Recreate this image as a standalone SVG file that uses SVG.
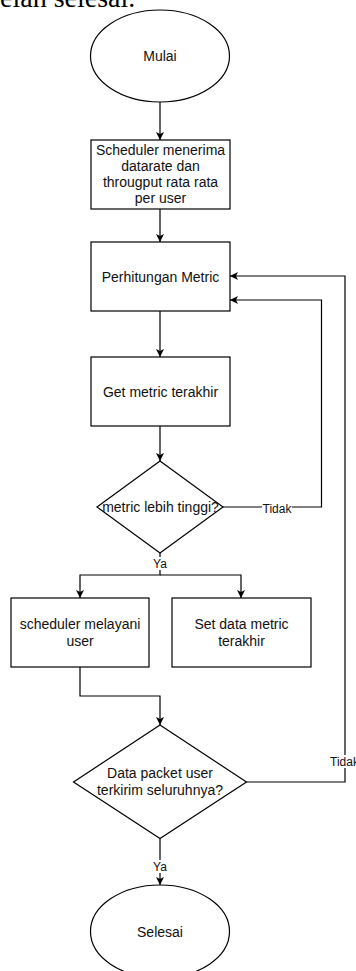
<svg xmlns="http://www.w3.org/2000/svg" width="356" height="971" viewBox="0 0 356 971">
<style>
.s{fill:#fff;stroke:#000;stroke-width:1.2}
.c{fill:none;stroke:#000;stroke-width:1.2}
.t{font-family:"Liberation Sans",Arial,sans-serif;font-size:14px;fill:#111;text-anchor:middle}
.l{font-family:"Liberation Sans",Arial,sans-serif;font-size:12px;fill:#111;text-anchor:middle}
</style>
<defs>
<marker id="ah" markerUnits="userSpaceOnUse" markerWidth="10" markerHeight="10" refX="8" refY="4" orient="auto">
<path d="M0,0 L8,4 L0,8 L2,4 z" fill="#000"/>
</marker>
</defs>
<rect width="356" height="971" fill="#fff"/>
<text x="0" y="7" font-family="'Liberation Serif',serif" font-size="28" fill="#000">elah selesai.</text>
<g id="connectors">
<path class="c" d="M160,102 V140" marker-end="url(#ah)"/>
<path class="c" d="M160,209 V242" marker-end="url(#ah)"/>
<path class="c" d="M160,311 V357" marker-end="url(#ah)"/>
<path class="c" d="M160,426 V461" marker-end="url(#ah)"/>
<path class="c" d="M223,507 H321.5 V300 H230" marker-end="url(#ah)"/>
<path class="c" d="M246.5,782 H345 V276 H230" marker-end="url(#ah)"/>
<path class="c" d="M160,553 V575 H80 V598" marker-end="url(#ah)"/>
<path class="c" d="M160,575 H241 V598" marker-end="url(#ah)"/>
<path class="c" d="M80,667 V696 H160 V725" marker-end="url(#ah)"/>
<path class="c" d="M160,838.5 V885" marker-end="url(#ah)"/>
<rect x="262" y="501" width="30" height="13" fill="#fff"/>
<text class="l" x="277" y="513">Tidak</text>
<rect x="329" y="755" width="31" height="13" fill="#fff"/>
<text class="l" x="344.5" y="766">Tidak</text>
<rect x="151" y="557" width="18" height="13" fill="#fff"/>
<text class="l" x="160" y="568">Ya</text>
<rect x="151" y="860" width="18" height="13" fill="#fff"/>
<text class="l" x="160" y="871">Ya</text>
</g>
<g id="mulai">
<ellipse class="s" cx="160" cy="56" rx="69.5" ry="46"/>
<text class="t" x="160" y="61">Mulai</text>
</g>
<g id="terima">
<rect class="s" x="91" y="140" width="139" height="69"/>
<text class="t" x="160.5" y="155">Scheduler menerima</text>
<text class="t" x="160.5" y="171">datarate dan</text>
<text class="t" x="160.5" y="187">througput rata rata</text>
<text class="t" x="160.5" y="203">per user</text>
</g>
<g id="hitung">
<rect class="s" x="91" y="242" width="139" height="69"/>
<text class="t" x="160.5" y="282">Perhitungan Metric</text>
</g>
<g id="getmetric">
<rect class="s" x="91" y="357" width="139" height="69"/>
<text class="t" x="160.5" y="396.5">Get metric terakhir</text>
</g>
<g id="cek1">
<polygon class="s" points="160,461 223,507 160,553 97,507"/>
<text class="t" x="160.5" y="512">metric lebih tinggi?</text>
</g>
<g id="layani">
<rect class="s" x="11" y="598" width="138" height="69"/>
<text class="t" x="80" y="629">scheduler melayani</text>
<text class="t" x="80" y="646">user</text>
</g>
<g id="setdata">
<rect class="s" x="172" y="598" width="139" height="69"/>
<text class="t" x="241.5" y="629">Set data metric</text>
<text class="t" x="241.5" y="646">terakhir</text>
</g>
<g id="cek2">
<polygon class="s" points="160,725 246.5,782 160,838.5 73.5,782"/>
<text class="t" x="160" y="778">Data packet user</text>
<text class="t" x="160" y="795">terkirim seluruhnya?</text>
</g>
<g id="selesai">
<ellipse class="s" cx="160" cy="931.5" rx="69.5" ry="46.5"/>
<text class="t" x="160" y="936.5">Selesai</text>
</g>
</svg>
